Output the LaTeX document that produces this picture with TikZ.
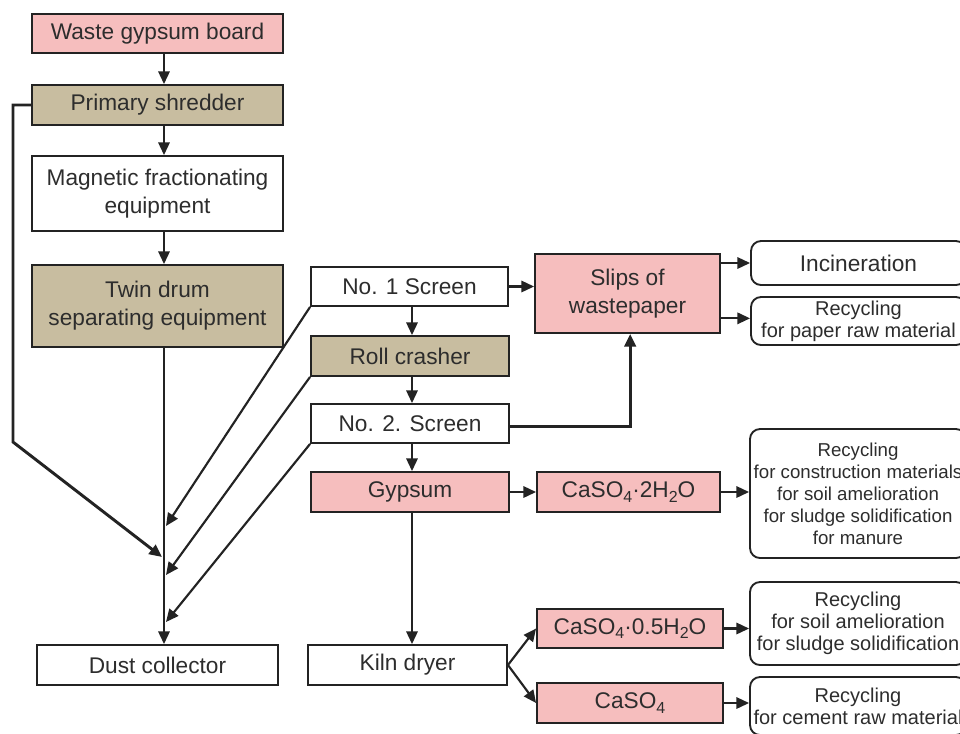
\documentclass[tikz,border=0pt]{standalone}
\usepackage{fontspec}
\setmainfont{Liberation Sans}
\usetikzlibrary{arrows.meta,calc}
\definecolor{pinkc}{RGB}{246,190,190}
\definecolor{tanc}{RGB}{200,189,160}
\definecolor{linec}{RGB}{35,35,35}
\definecolor{textc}{RGB}{45,45,45}
\newcommand{\subx}[1]{\raisebox{-0.4ex}{\fontsize{12}{12}\selectfont #1}}
\tikzset{
  box/.style={draw=linec, line width=1.4pt, text=textc, font=\fontsize{17}{21}\selectfont, align=center, inner sep=0pt},
  pinkbox/.style={box, fill=pinkc},
  tanbox/.style={box, fill=tanc},
  rbox/.style={box, rounded corners=7.5pt, font=\fontsize{15}{16.5}\selectfont},
  conn/.style={draw=linec, line width=1.6pt, -{Triangle[length=9.5pt,width=8.5pt]}},
  thickconn/.style={conn, line width=2.2pt},
  plain/.style={draw=linec, line width=1.6pt}
}
\begin{document}
\begin{tikzpicture}[x=0.75pt,y=-0.75pt]
\useasboundingbox (0,0) rectangle (960,733);
\clip (0,0) rectangle (960,733);
\fill[white] (0,0) rectangle (960,733);
% left column
\node[pinkbox, minimum width=188.25pt, minimum height=29.25pt] (wgb) at (157.5,33.5) {Waste gypsum board};
\node[tanbox, minimum width=188.25pt, minimum height=30pt] (ps) at (157.5,105) {Primary shredder};
\node[box, minimum width=188.25pt, minimum height=56.25pt] (mag) at (157.5,193.5) {Magnetic fractionating\\equipment};
\node[tanbox, minimum width=188.25pt, minimum height=61.5pt] (twin) at (157.5,306) {Twin drum\\separating equipment};
\node[box, minimum width=180.75pt, minimum height=30pt] (dust) at (157.5,665) {Dust collector};
% middle column
\node[box, minimum width=147.75pt, minimum height=29.25pt] (s1) at (409.5,286.5) {No. 1 Screen};
\node[tanbox, minimum width=148.5pt, minimum height=30pt] (roll) at (410,356) {Roll crasher};
\node[box, minimum width=148.5pt, minimum height=29.25pt] (s2) at (410,423.5) {No. 2. Screen};
\node[pinkbox, minimum width=148.5pt, minimum height=30pt] (gyp) at (410,492) {Gypsum};
\node[box, minimum width=149.25pt, minimum height=30pt] (kiln) at (407.5,665) {Kiln dryer};
% product column
\node[pinkbox, minimum width=138.75pt, minimum height=59.25pt] (slips) at (627.5,293.5) {Slips of\\wastepaper};
\node[pinkbox, minimum width=137.25pt, minimum height=30pt] (c2) at (628.5,492) {CaSO\subx{4}·2H\subx{2}O};
\node[pinkbox, minimum width=139.5pt, minimum height=29.25pt] (c05) at (630,628.5) {CaSO\subx{4}·0.5H\subx{2}O};
\node[pinkbox, minimum width=139.5pt, minimum height=30pt] (c) at (630,703) {CaSO\subx{4}};
% use column
\node[rbox, font=\fontsize{17}{21}\selectfont, minimum width=161.25pt, minimum height=33pt] (inc) at (858.5,263) {Incineration};
\node[rbox, minimum width=161.25pt, minimum height=36pt] (rpaper) at (858.5,321) {Recycling\\for paper raw material};
\node[rbox, font=\fontsize{14}{16.5}\selectfont, minimum width=162pt, minimum height=96.75pt] (rcons) at (858,493.5) {Recycling\\for construction materials\\for soil amelioration\\for sludge solidification\\for manure};
\node[rbox, minimum width=162pt, minimum height=62.25pt] (rsoil) at (858,623.5) {Recycling\\for soil amelioration\\for sludge solidification};
\node[rbox, minimum width=162pt, minimum height=43.5pt] (rcem) at (858,706) {Recycling\\for cement raw material};
% helper coordinates
\coordinate (sp) at (164,0);
\coordinate (cc) at (412,0);
\coordinate (L1) at (13,105);
\coordinate (L2) at (13,442);
\coordinate (d0) at (162,557);
\coordinate (d1) at (166,526);
\coordinate (d2) at (166,575);
\coordinate (d3) at (166,622);
% left column connectors
\draw[conn] (wgb.south -| sp) -- (ps.north -| sp);
\draw[conn] (ps.south -| sp) -- (mag.north -| sp);
\draw[conn] (mag.south -| sp) -- (twin.north -| sp);
\draw[conn] (twin.south -| sp) -- (dust.north -| sp);
\draw[thickconn] (ps.west) -- (L1) -- (L2) -- (d0);
\draw[conn] (s1.south west) -- (d1);
\draw[conn] (roll.south west) -- (d2);
\draw[conn] (s2.south west) -- (d3);
% middle column connectors
\draw[conn] (s1.south -| cc) -- (roll.north -| cc);
\draw[conn] (roll.south -| cc) -- (s2.north -| cc);
\draw[conn] (s2.south -| cc) -- (gyp.north -| cc);
\draw[conn] (gyp.south -| cc) -- (kiln.north -| cc);
\draw[conn] (s1.east) -- (s1.east -| slips.west);
\draw[thickconn] ([yshift=-2.5pt]s2.east) -| ([xshift=2pt]slips.south);
\draw[conn] (gyp.east) -- (c2.west);
\draw[conn] (kiln.east) -- (c05.west);
\draw[conn] (kiln.east) -- (c.west);
% right connectors
\draw[conn] (slips.east |- inc.west) -- (inc.west);
\draw[conn] ([yshift=2pt]slips.east |- rpaper.west) -- ([yshift=2pt]rpaper.west);
\draw[conn] (c2.east) -- (c2.east -| rcons.west);
\draw[conn] (c05.east) -- (c05.east -| rsoil.west);
\draw[conn] (c.east) -- (c.east -| rcem.west);
\end{tikzpicture}
\end{document}
